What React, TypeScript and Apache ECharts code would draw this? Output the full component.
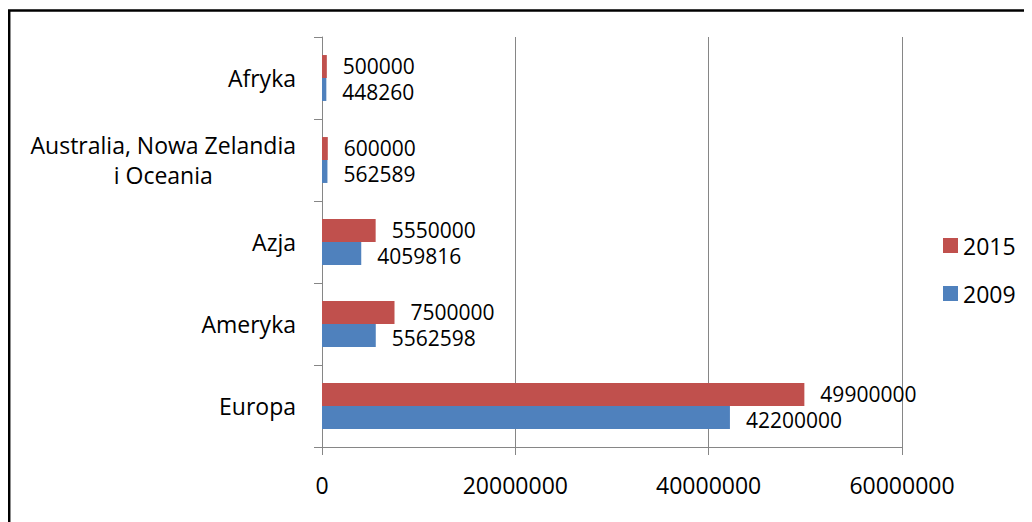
import React, { useEffect, useRef } from "react";
import * as echarts from "echarts";

const categories = ["Europa", "Ameryka", "Azja", "Australia, Nowa Zelandia\ni Oceania", "Afryka"];
const values2009 = [42200000, 5562598, 4059816, 562589, 448260];
const values2015 = [49900000, 7500000, 5550000, 600000, 500000];
const xTicks = { min: 0, max: 60000000, interval: 20000000 };
const legendNames = ["2015", "2009"];

const FONT = "'Open Sans', sans-serif";
const RED = "#C0504D";
const BLUE = "#4F81BD";
const GRAY = "#868686";

export default function App() {
  const ref = useRef<HTMLDivElement>(null);
  useEffect(() => {
    if (!ref.current) return;
    const chart = echarts.init(ref.current, undefined, { renderer: "svg" });
    const label = (dy: number) => ({
      show: true,
      position: "right" as const,
      distance: 16,
      offset: [0, dy],
      color: "#000",
      fontFamily: FONT,
      fontSize: 21,
      lineHeight: 21,
      formatter: (p: any) => String(p.value),
    });
    chart.setOption({
      animation: false,
      backgroundColor: "#fff",
      textStyle: { fontFamily: FONT },
      graphic: [
        {
          type: "rect",
          shape: { x: 1.2, y: 2.5, width: 1300, height: 1300 },
          style: { fill: "none", stroke: "#000", lineWidth: 2.5 },
          silent: true,
        },
      ],
      grid: { left: 314, right: 130, top: 29, bottom: 75, containLabel: false },
      legend: {
        data: legendNames,
        orient: "vertical",
        left: 930,
        top: 221,
        itemWidth: 15,
        itemHeight: 15,
        itemGap: 25,
        icon: "rect",
        textStyle: { color: "#000", fontFamily: FONT, fontSize: 23 },
      },
      xAxis: {
        type: "value",
        min: xTicks.min,
        max: xTicks.max,
        interval: xTicks.interval,
        axisLine: { show: true, lineStyle: { color: GRAY, width: 1 } },
        axisTick: { show: true, length: 8, lineStyle: { color: GRAY } },
        splitLine: { show: true, lineStyle: { color: GRAY, width: 1 } },
        axisLabel: {
          color: "#000",
          fontFamily: FONT,
          fontSize: 23,
          margin: 26,
          formatter: (v: number) => String(v),
        },
      },
      yAxis: {
        type: "category",
        data: categories,
        axisLine: { show: true, lineStyle: { color: GRAY, width: 1 } },
        axisTick: { show: true, length: 8, lineStyle: { color: GRAY } },
        axisLabel: {
          color: "#000",
          fontFamily: FONT,
          fontSize: 23,
          margin: 26,
          lineHeight: 30,
          formatter: (v: string) =>
            v
              .split("\n")
              .map((s) => "{c|" + s + "}")
              .join("\n"),
          rich: {
            c: { align: "center", fontFamily: FONT, fontSize: 23, color: "#000", lineHeight: 30 },
          },
        },
      },
      series: [
        {
          name: "2015",
          type: "bar",
          data: values2015,
          itemStyle: { color: RED },
          barGap: "0%",
          barCategoryGap: "44%",
          label: label(-1),
        },
        {
          name: "2009",
          type: "bar",
          data: values2009,
          itemStyle: { color: BLUE },
          barGap: "0%",
          barCategoryGap: "44%",
          label: label(3),
        },
      ],
    });
    return () => chart.dispose();
  }, []);
  return <div ref={ref} style={{ width: 1024, height: 514 }} />;
}
